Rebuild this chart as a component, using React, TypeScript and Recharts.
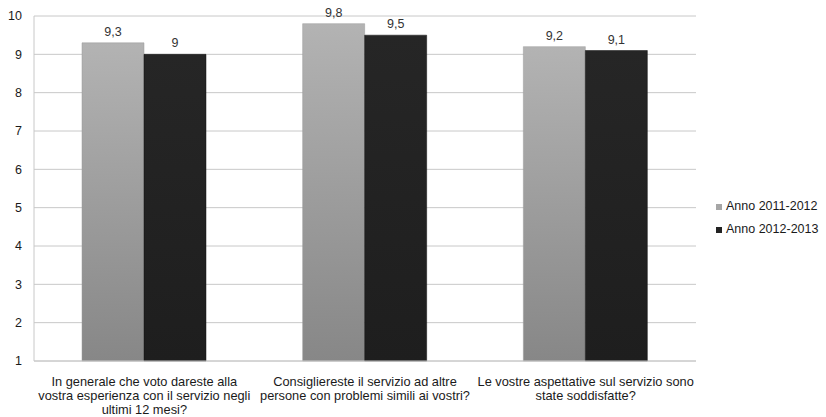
import React from "react";
import { BarChart, Bar, XAxis, YAxis, CartesianGrid, LabelList } from "recharts";

const categories = [
  "In generale che voto dareste alla|vostra esperienza con il servizio negli|ultimi 12 mesi?",
  "Consigliereste il servizio ad altre|persone con problemi simili ai vostri?",
  "Le vostre aspettative sul servizio sono|state soddisfatte?",
];
const anno2011 = [9.3, 9.8, 9.2];
const anno2012 = [9, 9.5, 9.1];
const seriesNames = ["Anno 2011-2012", "Anno 2012-2013"];
const yTicks = [1, 2, 3, 4, 5, 6, 7, 8, 9, 10];

const data = categories.map((c, i) => ({ cat: c, a: anno2011[i], b: anno2012[i] }));

const FONT = "'Liberation Sans', Arial, sans-serif";

const XTick = (props: any) => {
  const { x, y, payload } = props;
  const lines = String(payload.value).split("|");
  return (
    <g>
      {lines.map((l: string, i: number) => (
        <text key={i} x={x} y={y + 17 + i * 14} textAnchor="middle" fontSize={12.8} fontFamily={FONT} fill="#1a1a1a">
          {l}
        </text>
      ))}
    </g>
  );
};

const fmt = (v: any) => String(v).replace(".", ",");

export default function App() {
  return (
    <div style={{ position: "absolute", left: 0, top: 0, width: 826, height: 417, background: "#fff" }}>
      <BarChart
        width={826}
        height={417}
        data={data}
        margin={{ top: 16, right: 130, bottom: 0, left: 0 }}
        barGap={0}
        barSize={62}
      >
        <defs>
          <linearGradient id="gLight" x1="0" y1="0" x2="0" y2="1">
            <stop offset="0%" stopColor="#b3b3b3" />
            <stop offset="100%" stopColor="#878787" />
          </linearGradient>
          <linearGradient id="gDark" x1="0" y1="0" x2="0" y2="1">
            <stop offset="0%" stopColor="#262626" />
            <stop offset="100%" stopColor="#1e1e1e" />
          </linearGradient>
        </defs>
        <CartesianGrid vertical={false} stroke="#c8c8c8" />
        <XAxis
          dataKey="cat"
          tick={<XTick />}
          tickLine={false}
          axisLine={{ stroke: "#c8c8c8" }}
          interval={0}
          height={56}
        />
        <YAxis
          domain={[1, 10]}
          ticks={yTicks}
          width={34}
          tickLine={false}
          axisLine={{ stroke: "#c8c8c8" }}
          tick={{ fontSize: 12.5, fontFamily: FONT, fill: "#1a1a1a" }}
          tickMargin={6}
          interval={0}
        />
        <Bar dataKey="a" name={seriesNames[0]} fill="url(#gLight)" stroke="#9a9a9a" strokeWidth={0.5} isAnimationActive={false}>
          <LabelList dataKey="a" position="top" offset={7} formatter={fmt} style={{ fontSize: 12.5, fontFamily: FONT, fill: "#333" }} />
        </Bar>
        <Bar dataKey="b" name={seriesNames[1]} fill="url(#gDark)" stroke="#111" strokeWidth={0.5} isAnimationActive={false}>
          <LabelList dataKey="b" position="top" offset={7} formatter={fmt} style={{ fontSize: 12.5, fontFamily: FONT, fill: "#333" }} />
        </Bar>
      </BarChart>
      <div style={{ position: "absolute", left: 716, top: 195, fontFamily: FONT, fontSize: 12.5, color: "#1a1a1a", lineHeight: "23px" }}>
        {seriesNames.map((n, i) => (
          <div key={n} style={{ display: "flex", alignItems: "center", height: 23, whiteSpace: "nowrap" }}>
            <span style={{ width: 6, height: 6, background: i === 0 ? "#a6a6a6" : "#222", marginRight: 4, display: "inline-block" }} />
            <span>{n}</span>
          </div>
        ))}
      </div>
    </div>
  );
}
